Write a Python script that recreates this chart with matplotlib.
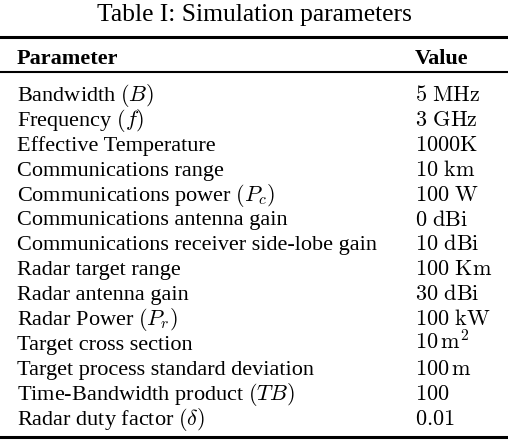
import matplotlib.pyplot as plt

plt.rcParams['mathtext.fontset'] = 'cm'
plt.rcParams['font.family'] = ['Liberation Serif', 'DejaVu Serif']

title = "Table I: Simulation parameters"
headers = ["Parameter", "Value"]
params = [
    r"Bandwidth $(B)$",
    r"Frequency $(f)$",
    "Effective Temperature",
    "Communications range",
    r"Communications power $(P_c)$",
    "Communications antenna gain",
    "Communications receiver side-lobe gain",
    "Radar target range",
    "Radar antenna gain",
    r"Radar Power $(P_r)$",
    "Target cross section",
    "Target process standard deviation",
    r"Time-Bandwidth product $(TB)$",
    r"Radar duty factor $(\delta)$",
]
values = [
    r"$\mathrm{5\ MHz}$",
    r"$\mathrm{3\ GHz}$",
    r"$\mathrm{1000K}$",
    r"$\mathrm{10\ km}$",
    r"$\mathrm{100\ W}$",
    r"$\mathrm{0\ dBi}$",
    r"$\mathrm{10\ dBi}$",
    r"$\mathrm{100\ Km}$",
    r"$\mathrm{30\ dBi}$",
    r"$\mathrm{100\ kW}$",
    r"$\mathrm{10\,m^2}$",
    r"$\mathrm{100\,m}$",
    r"$\mathrm{100}$",
    r"$\mathrm{0.01}$",
]

W, H = 508, 440
fig = plt.figure(figsize=(W / 100, H / 100), dpi=100)
ax = fig.add_axes([0, 0, 1, 1])
ax.set_xlim(0, W)
ax.set_ylim(H, 0)
ax.axis("off")

x_left, x_val = 17, 415
fs = 16

# title and rules
ax.text(W / 2, 21, title, fontsize=18.4, ha="center", va="baseline")
ax.axhline(37, color="black", lw=2.2)
ax.text(x_left, 64, headers[0], fontsize=fs, fontweight="bold", va="baseline")
ax.text(x_val, 64, headers[1], fontsize=fs, fontweight="bold", va="baseline")
ax.axhline(72, color="black", lw=1.5)

y0, dy = 101, 24.9
for i, (p, v) in enumerate(zip(params, values)):
    y = y0 + i * dy
    ax.text(x_left, y, p, fontsize=fs, va="baseline")
    ax.text(x_val, y, v, fontsize=fs, va="baseline")

ax.axhline(437, color="black", lw=2.2)

fig.savefig("out.png", dpi=100)
